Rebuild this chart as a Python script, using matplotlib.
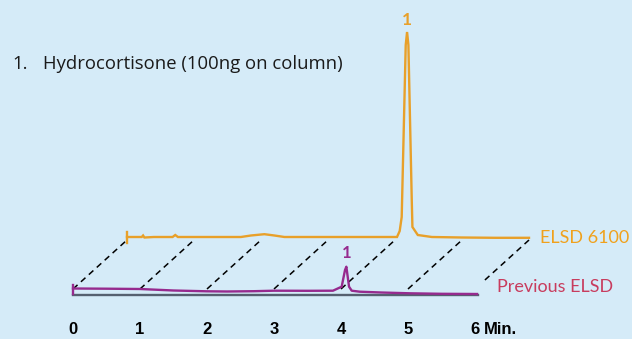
import matplotlib
matplotlib.use("Agg")
import matplotlib.pyplot as plt
import numpy as np

# ---- data ----
# ELSD 6100 trace (time in min, signal relative to its own baseline)
orange_t = [0.00, 0.10, 0.22, 0.24, 0.26, 0.40, 0.68, 0.72, 0.76, 1.00, 1.50, 1.70,
            1.85, 2.05, 2.20, 2.35, 2.70, 3.20, 3.70, 4.03, 4.07, 4.10, 4.16, 4.18,
            4.20, 4.25, 4.26, 4.34, 4.55, 5.00, 5.50, 6.00]
orange_s = [0.0, 0.0, 0.0, 1.5, -0.5, 0.0, 0.0, 2.0, 0.0, 0.0, 0.0, 0.0,
            1.5, 2.8, 1.5, 0.0, 0.0, 0.0, 0.0, 0.0, 6, 20, 192, 205,
            192, 37, 10, 2, 0, -0.5, -0.8, -0.8]
# Previous ELSD trace
purple_t = [0.00, 0.50, 1.00, 1.50, 2.00, 2.30, 2.70, 3.00, 3.50, 3.88, 4.01, 4.06,
            4.08, 4.12, 4.16, 4.28, 4.60, 5.03, 5.50, 6.03]
purple_s = [2.5, 2.3, 2.0, 0.5, -0.3, -0.5, -0.2, 0.3, 0.2, 0.3, 4.3, 21,
            24.3, 4.3, 0.3, -0.7, -1.5, -2.3, -2.8, -3.0]

ticks = [0, 1, 2, 3, 4, 5, 6]
tick_labels = ["0", "1", "2", "3", "4", "5", "6"]
unit_label = "Min."
peak_label = "1"
title_num = "1."
title_text = "Hydrocortisone (100ng on column)"
orange_name = "ELSD 6100"
purple_name = "Previous ELSD"

# ---- style / layout ----
BG = "#d5ebf8"
ORANGE = "#e8a02a"
ORANGE_TXT = "#f0a11c"
PURPLE = "#962a8e"
PURPLE_TXT = "#c83c5e"
GRAY = "#556070"
TICK_FONT = ["Liberation Sans Narrow", "Liberation Sans"]

off_t, off_y = 0.806, 54.0    # perspective offset of the front (ELSD 6100) trace
base_level = -3.6
dash_lo = [2, 2, 2, 2, 2, 2, 11]
dash_hi = 51

fig = plt.figure(figsize=(6.32, 3.39), dpi=100, facecolor=BG)
ax = fig.add_axes([0, 0, 1, 1])
ax.set_facecolor(BG)
ax.set_xlim(-73 / 67, (632 - 73) / 67)
ax.set_ylim(-48, 291)
ax.axis("off")

# dashed perspective lines
for tk, lo in zip(ticks, dash_lo):
    frac = (lo - 2) / (dash_hi - 2)
    ax.plot([tk + frac * off_t, tk + off_t], [lo, dash_hi], color="black",
            lw=1.1, dashes=(4, 3), zorder=1)

# baseline axis
ax.plot([ticks[0], ticks[-1] + 0.05], [base_level, base_level], color=GRAY, lw=1.7, zorder=2)

# previous ELSD
pt = np.array(purple_t)
ps = np.array(purple_s)
ax.plot(pt, ps, color=PURPLE, lw=1.7, zorder=3, solid_joinstyle="round")
ax.plot([pt[0], pt[0]], [ps[0] - 5, ps[0] + 4], color=PURPLE, lw=1.7, zorder=3)

# ELSD 6100
ot = np.array(orange_t) + off_t
os_ = np.array(orange_s) + off_y
ax.plot(ot, os_, color=ORANGE, lw=1.7, zorder=3, solid_joinstyle="miter")
ax.plot([ot[0], ot[0]], [os_[0] - 6, os_[0] + 5], color=ORANGE, lw=1.7, zorder=3)

# peak labels
ip = int(np.argmax(os_))
ax.text(ot[ip], os_[ip] + 12, peak_label, color=ORANGE, fontsize=12.5, fontweight="bold",
        family="Lato", ha="center", va="center")
jp = int(np.argmax(ps))
ax.text(pt[jp], ps[jp] + 14, peak_label, color=PURPLE, fontsize=12, fontweight="bold",
        family="Lato", ha="center", va="center")

# tick labels
for tk, lab in zip(ticks, tick_labels):
    ax.text(tk, -39, lab, ha="center", va="center", fontsize=12, fontweight="bold",
            family=TICK_FONT, color="black")
ax.text(ticks[-1] + 0.13, -39, unit_label, ha="left", va="center", fontsize=12,
        fontweight="bold", family=TICK_FONT, color="black")

# series names
ax.text(6.97, 53, orange_name, color=ORANGE_TXT, fontsize=13, family="Lato",
        ha="left", va="center")
ax.text(6.33, 4, purple_name, color=PURPLE_TXT, fontsize=13, family="Lato",
        ha="left", va="center")

# title
fig.text(12 / 632, 1 - 64 / 339, title_num, fontsize=13.3, family="Open Sans", ha="left",
         va="center", color="#1a1a1a")
fig.text(43 / 632, 1 - 64 / 339, title_text, fontsize=13.3, family="Open Sans", ha="left",
         va="center", color="#1a1a1a")

fig.savefig("out.png", dpi=100, facecolor=BG)
